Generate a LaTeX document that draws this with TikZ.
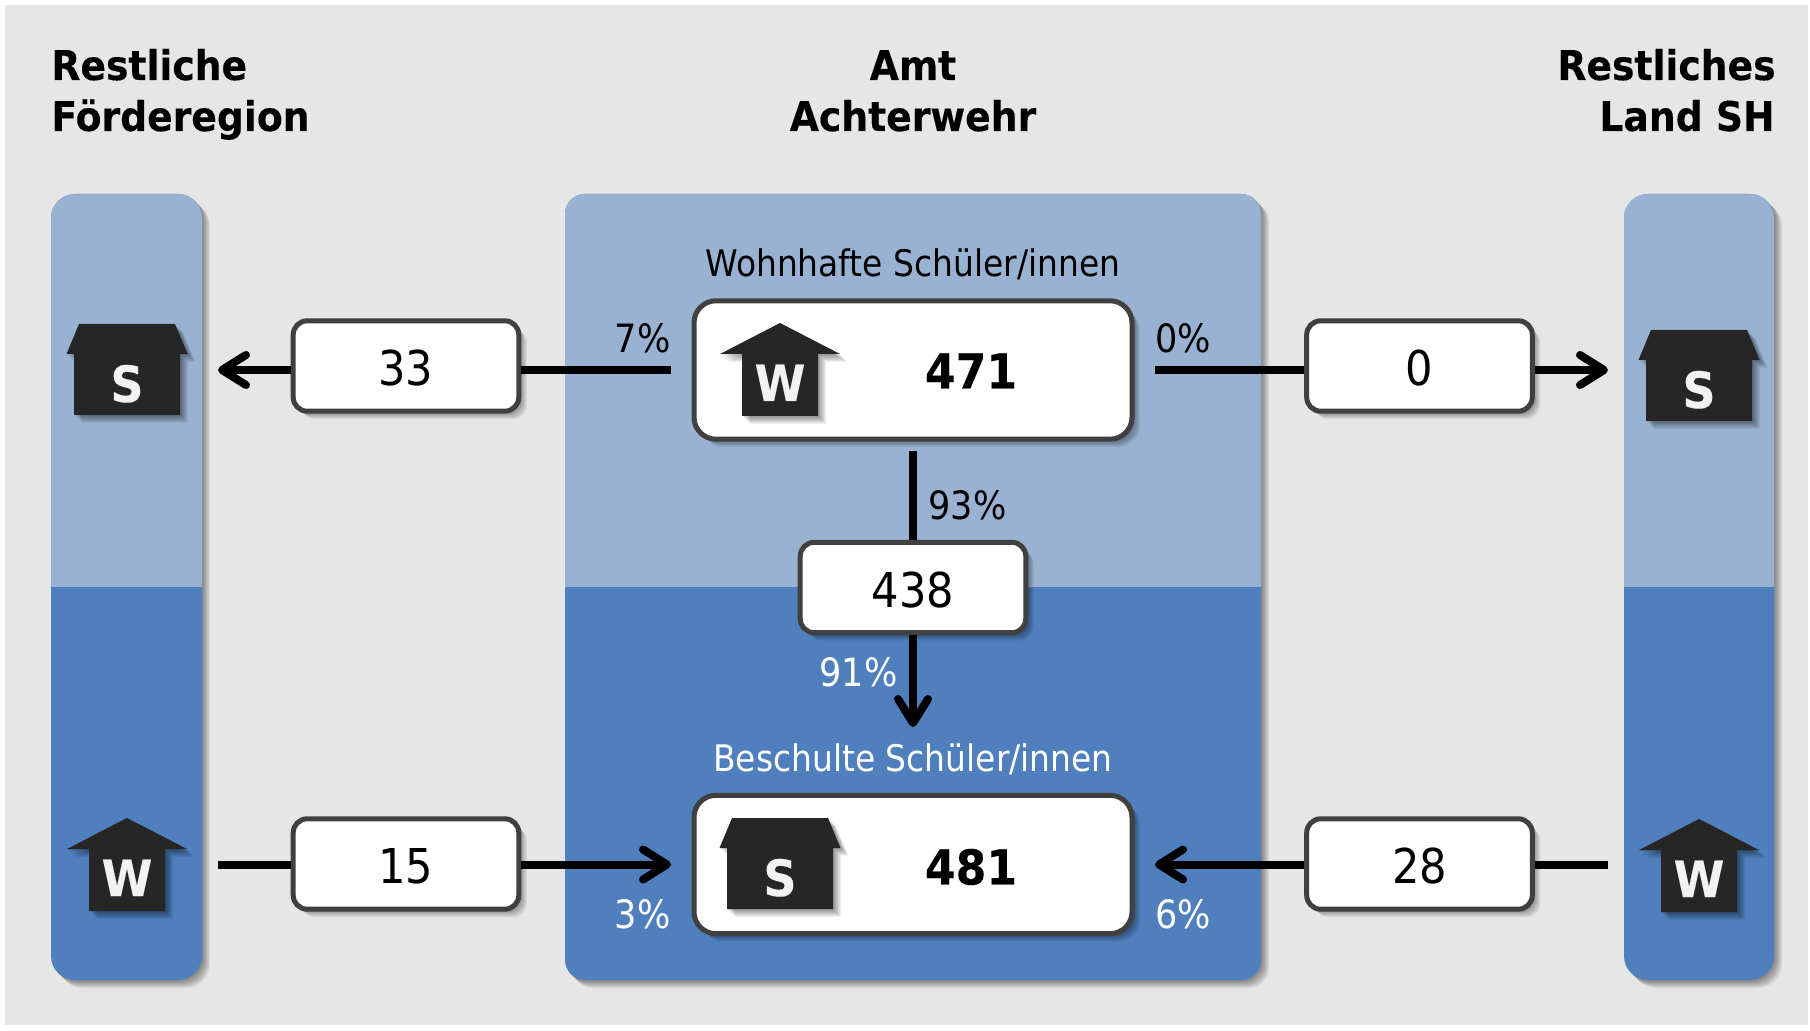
\documentclass[tikz,border=0pt]{standalone}
\usepackage{fontspec}
\setmainfont{DejaVu Sans Condensed}[BoldFont={DejaVu Sans Bold},BoldFeatures={FakeStretch=0.92,FakeBold=0.25}]
\usetikzlibrary{arrows.meta}
\definecolor{bggrey}{HTML}{E6E6E6}
\definecolor{panellight}{HTML}{9AB2D1}
\definecolor{paneldark}{HTML}{4F80BD}
\definecolor{boxedge}{HTML}{404040}
\definecolor{housedark}{HTML}{262626}
\definecolor{houseletter}{HTML}{F2F2F2}
\tikzset{
  shadowlayer/.style={preaction={fill=black,opacity=.06,transform canvas={shift={(#1,-#1)}}}},
  softshadow/.style={shadowlayer=.5pt,shadowlayer=1pt,shadowlayer=1.5pt,shadowlayer=2pt,
    shadowlayer=2.5pt,shadowlayer=3pt,shadowlayer=3.5pt,shadowlayer=4pt},
  smallbox/.style={draw=boxedge,line width=2.5pt,fill=white,rounded corners=7pt,softshadow,
    minimum width=112.8pt,minimum height=45.2pt,inner sep=0pt,text height=19.7pt,text depth=0pt,font=\fontsize{24}{28}\selectfont},
  bigbox/.style={draw=boxedge,line width=2.5pt,fill=white,rounded corners=11pt,softshadow,
    minimum width=219pt,minimum height=69.2pt,inner sep=0pt},
  conn/.style={line width=4pt,black},
  arrowconn/.style={conn,-{Straight Barb[length=12pt,width=15pt,round]}},
  title/.style={font=\fontsize{20.5}{25.5}\selectfont\bfseries,inner sep=0pt,align=left},
  label/.style={font=\fontsize{18.3}{22}\selectfont,inner sep=0pt},
  pct/.style={font=\fontsize{19.5}{22}\selectfont,inner sep=0pt},
  bignum/.style={font=\fontsize{24}{28}\selectfont\bfseries,inner sep=0pt},
  houseletter/.style={font=\fontsize{25}{28}\selectfont\bfseries,text=houseletter,inner sep=0pt,anchor=base},
  housebody/.style={fill=housedark,softshadow},
}
% name, cx, top
\newcommand{\houseS}[3]{%
  \path[housebody,shift={(#2,#3)}] (-48,0) -- (48,0) -- (60.5,30) -- (53,30) -- (53,91) -- (-53,91) -- (-53,30) -- (-60.5,30) -- cycle;
  \node[houseletter] (#1) at (#2,#3+78) {S};}
\newcommand{\houseW}[3]{%
  \path[housebody,shift={(#2,#3)}] (0,0) -- (60,31) -- (38,31) -- (38,93) -- (-38,93) -- (-38,31) -- (-60,31) -- cycle;
  \node[houseletter] (#1) at (#2,#3+78) {W};}
% x0, x1, radius
\newcommand{\panel}[3]{%
  \path[fill=paneldark,rounded corners=#3,softshadow] (#1,194) rectangle (#2,980);
  \fill[panellight] (#1,587) -- (#1,240) [rounded corners=#3] -- (#1,194) -- (#2,194) [sharp corners] -- (#2,587) -- cycle;}
\begin{document}
\begin{tikzpicture}[x=0.5pt,y=-0.5pt]
\useasboundingbox (0,0) rectangle (1810,1031);
\fill[bggrey] (5,5) rectangle (1808,1025);
\panel{51}{202}{12pt}
\panel{565}{1261}{10pt}
\panel{1624}{1774}{12pt}
% titles
\node[title,anchor=base west] (t1a) at (51,80) {Restliche};
\node[title,anchor=base west] (t1b) at (51,131) {Förderegion};
\node[title,anchor=base] (t2a) at (913,80) {Amt};
\node[title,anchor=base] (t2b) at (913,131) {Achterwehr};
\node[title,anchor=base east] (t3a) at (1776,80) {Restliches};
\node[title,anchor=base east] (t3b) at (1775,131) {Land SH};
% boxes
\node[bigbox] (wohn) at (913,370) {};
\node[bigbox] (besch) at (913,864.5) {};
\node[bignum] (n471) at (971,371) {471};
\node[bignum] (n481) at (971,867) {481};
\node[smallbox] (b33) at (406,366) {33};
\node[smallbox] (b0) at (1419.5,366) {0};
\node[smallbox] (b438) at (913,587.5) {438};
\node[smallbox] (b15) at (406,864) {15};
\node[smallbox] (b28) at (1419.5,864) {28};
% houses
\houseS{hsl}{127}{324}
\houseS{hsr}{1699}{330}
\houseW{hwl}{127}{818}
\houseW{hwr}{1699}{819}
\houseW{hwc}{780}{323}
\houseS{hsc}{780}{818}
% labels
\node[label] (wl) at (913,264) {Wohnhafte Schüler/innen};
\node[label,text=white] (bl) at (913,759) {Beschulte Schüler/innen};
\node[pct,anchor=east] (p7) at (671,338) {7\%};
\node[pct,anchor=west] (p0) at (1155,338) {0\%};
\node[pct,anchor=west] (p93) at (928,505) {93\%};
\node[pct,anchor=east,text=white] (p91) at (898,672) {91\%};
\node[pct,anchor=east,text=white] (p3) at (671,914) {3\%};
\node[pct,anchor=west,text=white] (p6) at (1155,914) {6\%};
% connector ends
\coordinate (a7) at (671,370);
\coordinate (a33) at (218,370);
\coordinate (a0s) at (1155,370);
\coordinate (a0e) at (1608,370);
\coordinate (v1) at (913,451);
\coordinate (v2) at (913,727);
\coordinate (a15s) at (218,864.5);
\coordinate (a15e) at (671,864.5);
\coordinate (a28s) at (1608,864.5);
\coordinate (a28e) at (1155,864.5);
% connectors
\draw[conn] (a7) -- (a7 -| b33.east);
\draw[arrowconn] (a7 -| b33.west) -- (a33);
\draw[conn] (a0s) -- (a0s -| b0.west);
\draw[arrowconn] (a0s -| b0.east) -- (a0e);
\draw[conn] (v1) -- (b438.north);
\draw[arrowconn] (b438.south) -- (v2);
\draw[conn] (a15s) -- (a15s -| b15.west);
\draw[arrowconn] (a15e -| b15.east) -- (a15e);
\draw[conn] (a28s) -- (a28s -| b28.east);
\draw[arrowconn] (a28e -| b28.west) -- (a28e);
\end{tikzpicture}
\end{document}
